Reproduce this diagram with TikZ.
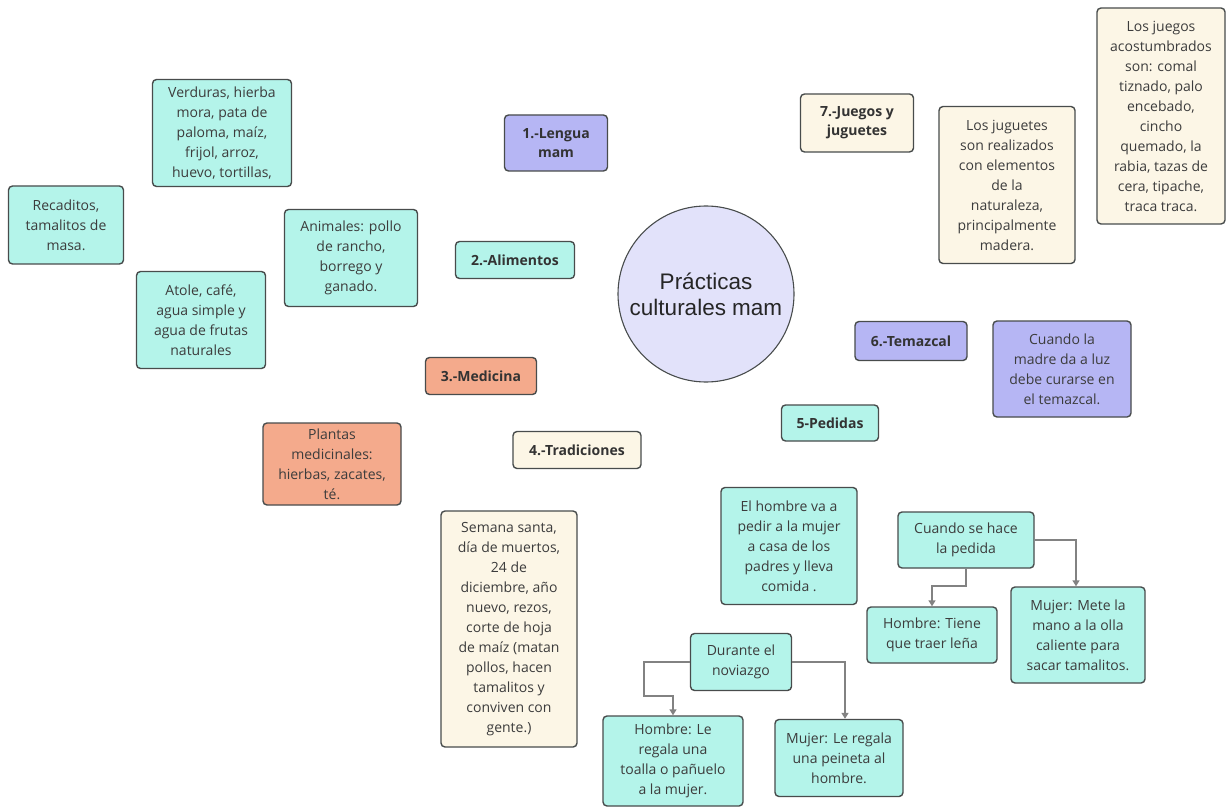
\documentclass[tikz,border=0pt]{standalone}
\usepackage{fontspec}
\setmainfont{Open Sans}
\newfontfamily\circlefont{Liberation Sans}
\usetikzlibrary{arrows.meta}
\definecolor{cyanfill}{RGB}{180,244,234}
\definecolor{lavfill}{RGB}{182,182,244}
\definecolor{circfill}{RGB}{226,226,250}
\definecolor{salmonfill}{RGB}{244,170,140}
\definecolor{creamfill}{RGB}{252,246,230}
\definecolor{boxline}{RGB}{72,76,76}
\definecolor{txt}{RGB}{60,60,60}
\definecolor{connline}{RGB}{130,130,130}
\tikzset{
  box/.style={draw=boxline, line width=1.4pt, rounded corners=4pt, align=center,
    inner sep=2pt, text=txt, font=\fontsize{14}{20}\selectfont},
  cyanbox/.style={box, fill=cyanfill},
  lavbox/.style={box, fill=lavfill},
  salmonbox/.style={box, fill=salmonfill},
  creambox/.style={box, fill=creamfill},
  title/.style={font=\fontsize{14}{19}\selectfont\bfseries, text=black!80},
  conn/.style={draw=connline, line width=1.8pt, -{Triangle[width=7pt,length=6pt]}}
}
\begin{document}
\begin{tikzpicture}[x=1pt,y=-1pt]
\path[fill=white] (0,0) rectangle (1228,810);

\node[circle, draw=boxline, line width=1.1pt, fill=circfill, minimum size=176pt, align=center,
  font=\circlefont\fontsize{22.5}{26}\selectfont, text=black!85] (centro) at (706,294) {Prácticas\\culturales mam};

\node[lavbox, title, minimum width=103pt, minimum height=56pt] (lengua) at (556,143) {1.-Lengua\\mam};
\node[cyanbox, title, minimum width=119pt, minimum height=37pt] (alimentos) at (515,260) {2.-Alimentos};
\node[salmonbox, title, minimum width=111pt, minimum height=37pt] (medicina) at (481,376) {3.-Medicina};
\node[creambox, title, minimum width=128pt, minimum height=37pt] (tradiciones) at (577,450) {4.-Tradiciones};
\node[cyanbox, title, minimum width=97pt, minimum height=36pt] (pedidas) at (830,423) {5-Pedidas};
\node[lavbox, title, minimum width=112pt, minimum height=39pt] (temazcal) at (911,341) {6.-Temazcal};
\node[creambox, title, minimum width=113pt, minimum height=58pt] (juegos) at (857,123) {7.-Juegos y\\juguetes};

\node[cyanbox, minimum width=139pt, minimum height=107pt] (verduras) at (222,133)
  {Verduras, hierba\\mora, pata de\\paloma, maíz,\\frijol, arroz,\\huevo, tortillas,};
\node[cyanbox, minimum width=115pt, minimum height=78pt] (recaditos) at (66,225)
  {Recaditos,\\tamalitos de\\masa.};
\node[cyanbox, minimum width=129pt, minimum height=97pt] (atole) at (201,320)
  {Atole, café,\\agua simple y\\agua de frutas\\naturales};
\node[cyanbox, minimum width=133pt, minimum height=97pt] (animales) at (351,258)
  {Animales: pollo\\de rancho,\\borrego y\\ganado.};
\node[salmonbox, minimum width=138pt, minimum height=82pt] (plantas) at (332,464)
  {Plantas\\medicinales:\\hierbas, zacates,\\té.};
\node[creambox, minimum width=136pt, minimum height=236pt] (semana) at (509,629)
  {Semana santa,\\día de muertos,\\24 de\\diciembre, año\\nuevo, rezos,\\corte de hoja\\de maíz (matan\\pollos, hacen\\tamalitos y\\conviven con\\gente.)};
\node[creambox, minimum width=136pt, minimum height=157pt] (juguetes) at (1007,185)
  {Los juguetes\\son realizados\\con elementos\\de la\\naturaleza,\\principalmente\\madera.};
\node[creambox, minimum width=128pt, minimum height=216pt] (acostumbrados) at (1161,116)
  {Los juegos\\acostumbrados\\son: comal\\tiznado, palo\\encebado,\\cincho\\quemado, la\\rabia, tazas de\\cera, tipache,\\traca traca.};
\node[lavbox, minimum width=138pt, minimum height=96pt] (madre) at (1062,369)
  {Cuando la\\madre da a luz\\debe curarse en\\el temazcal.};
\node[cyanbox, minimum width=136pt, minimum height=117pt] (elhombre) at (789,546)
  {El hombre va a\\pedir a la mujer\\a casa de los\\padres y lleva\\comida .};

\node[cyanbox, minimum width=136pt, minimum height=56pt] (pedida) at (966,540) {Cuando se hace\\la pedida};
\node[cyanbox, minimum width=130pt, minimum height=56pt] (lena) at (932,635) {Hombre: Tiene\\que traer leña};
\node[cyanbox, minimum width=134pt, minimum height=96pt] (olla) at (1078,635)
  {Mujer: Mete la\\mano a la olla\\caliente para\\sacar tamalitos.};
\node[cyanbox, minimum width=101pt, minimum height=57pt] (noviazgo) at (741,662) {Durante el\\noviazgo};
\node[cyanbox, minimum width=140pt, minimum height=90pt] (toalla) at (673,761)
  {Hombre: Le\\regala una\\toalla o pañuelo\\a la mujer.};
\node[cyanbox, minimum width=128pt, minimum height=77pt] (peineta) at (839,758)
  {Mujer: Le regala\\una peineta al\\hombre.};

\draw[conn] (pedida.south) -- ++(0,17) -| (lena.north);
\draw[conn] (pedida.east) -| ([xshift=-2pt]olla.north);
\draw[conn] (noviazgo.west) -- ++(-46,0) |- ([yshift=19pt]toalla.north) -- (toalla.north);
\draw[conn] (noviazgo.east) -| ([xshift=6pt]peineta.north);
\end{tikzpicture}
\end{document}
